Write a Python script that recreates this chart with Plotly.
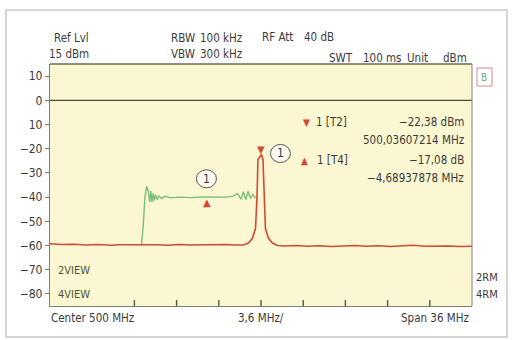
import plotly.graph_objects as go

# ---------------- data ----------------
center_mhz = 500.0
span_mhz = 36.0
x_start = center_mhz - span_mhz / 2
x_stop = center_mhz + span_mhz / 2

# red trace (clear/write) : frequency (MHz) and level (dBm)
red_f = [482.0, 483.0, 484.0, 485.1, 486.0, 487.2, 488.0, 489.0, 490.0, 491.0, 492.1,
         493.0, 494.0, 495.0, 496.0, 497.0, 497.8, 498.5, 498.93, 499.27, 499.53,
         499.66, 499.74, 500.036, 500.17, 500.26, 500.38, 500.64, 500.98, 501.41,
         502.0, 503.0, 504.0, 505.0, 506.0, 507.0, 508.0, 509.0, 510.0, 511.0,
         512.0, 513.0, 514.0, 515.0, 516.0, 517.0, 518.0]
red_db = [-59.3, -59.6, -59.5, -59.8, -59.6, -59.9, -59.7, -59.6, -59.8, -59.7, -59.9,
          -59.6, -59.8, -59.7, -59.9, -59.6, -59.8, -59.8, -59.0, -57.0, -53.0,
          -40.0, -24.5, -22.38, -24.5, -40.0, -53.0, -57.0, -59.0, -60.0,
          -60.2, -60.0, -60.3, -60.1, -60.4, -60.2, -60.0, -60.3, -60.1, -60.4,
          -60.2, -59.9, -60.3, -60.1, -60.2, -60.4, -60.3]

# green trace (max hold)
green_f = [489.8, 489.95, 490.1, 490.25, 490.38, 490.5, 490.6, 490.7, 490.8, 490.9,
           491.0, 491.15, 491.3, 491.5, 491.8, 492.3, 493.0, 494.0, 495.0, 496.0,
           497.0, 497.6, 498.0, 498.3, 498.5, 498.7, 498.9, 499.1, 499.3, 499.5, 499.62]
green_db = [-60.0, -52.0, -40.0, -35.5, -37.5, -42.0, -37.5, -42.0, -38.5, -41.5,
            -39.0, -41.0, -39.5, -40.6, -39.7, -40.3, -40.0, -40.2, -39.9, -40.1,
            -40.0, -39.6, -38.6, -40.8, -37.8, -41.0, -37.6, -40.5, -38.8, -40.2, -40.0]

# markers
t2_freq = 500.03607214
t2_level = -22.38
t4_delta_freq = -4.68937878
t4_delta_level = -17.08
t4_freq = t2_freq + t4_delta_freq
t4_level = t2_level + t4_delta_level

y_ticks = [10, 0, -10, -20, -30, -40, -50, -60, -70, -80]
y_labels = ["10", "0", "10", "\u221220", "\u221230", "\u221240", "\u221250", "\u221260", "\u221270", "\u221280"]
x_div = span_mhz / 10
x_ticks = [x_start + i * x_div for i in range(2, 10)]

# ---------------- layout helpers ----------------
W_FIG, H_FIG = 512, 340
L, R, T, B = 50, 472, 64, 306
PW, PH = R - L, B - T


def px(xp):
    return (xp - L) / PW


def py(yp):
    return (B - yp) / PH


FONT = "Liberation Sans Narrow, DejaVu Sans Condensed, Arial Narrow, sans-serif"
TXT = "#3a3a3a"
OLIVE = "#4d5634"
RED = "#cf4b36"
GREEN = "#7cbf78"
BG = "#fbf7d2"
AX = "#7d8070"

fig = go.Figure()
fig.add_trace(go.Scatter(x=green_f, y=green_db, mode="lines",
                         line=dict(color=GREEN, width=1.4), hoverinfo="skip"))
fig.add_trace(go.Scatter(x=red_f, y=red_db, mode="lines",
                         line=dict(color=RED, width=1.6), hoverinfo="skip"))

ann = []


def txt(text, xp, yp, xanchor="left", size=11.5, color=TXT):
    ann.append(dict(text=text, x=px(xp), y=py(yp), xref="paper", yref="paper",
                    xanchor=xanchor, yanchor="middle", showarrow=False,
                    font=dict(family=FONT, size=size, color=color)))


# header
txt("Ref Lvl", 52, 38)
txt("15 dBm", 47, 54)
txt("RBW", 169, 38)
txt("100 kHz", 198, 38)
txt("RF Att", 260, 37)
txt("40 dB", 302, 37)
txt("VBW", 169, 54)
txt("300 kHz", 198, 54)
txt("SWT", 327, 58)
txt("100 ms", 361, 58)
txt("Unit", 405, 58)
txt("dBm", 469, 58, xanchor="right")

# marker info
txt("\u25bc", 301, 122, size=10, color=RED)
txt("1 [T2]", 314, 122)
txt("\u221222,38 dBm", 466, 122, xanchor="right")
txt("500,03607214 MHz", 466, 140, xanchor="right")
txt("\u25b2", 299, 160, size=10, color=RED)
txt("1 [T4]", 315, 160)
txt("\u221217,08 dB", 466, 160, xanchor="right")
txt("\u22124,68937878 MHz", 466, 178, xanchor="right")

# side labels
txt("2VIEW", 56, 270, size=11, color=OLIVE)
txt("4VIEW", 56, 294, size=11, color=OLIVE)
txt("2RM", 474, 277, size=11)
txt("4RM", 474, 294, size=11)
txt("B", 484.5, 77, xanchor="center", size=10, color="#6aa86a")

# bottom labels
txt("Center 500 MHz", 49, 318)
txt("3,6 MHz/", 261, 318, xanchor="center")
txt("Span 36 MHz", 471, 318, xanchor="right")

# marker triangles at trace points
ann.append(dict(text="\u25bc", x=t2_freq, y=t2_level, xref="x", yref="y",
                xanchor="center", yanchor="bottom", showarrow=False, yshift=-3,
                font=dict(family="DejaVu Sans", size=10, color=RED)))
ann.append(dict(text="\u25b2", x=t4_freq, y=t4_level, xref="x", yref="y",
                xanchor="center", yanchor="top", showarrow=False, yshift=1, xshift=1,
                font=dict(family="DejaVu Sans", size=10, color=RED)))

shapes = []
# circled "1" markers
for fx, fy, dx, dy in [(t4_freq, t4_level, 0, 17), (t2_freq, t2_level, 19, 1)]:
    shapes.append(dict(type="circle", xref="x", yref="y", xsizemode="pixel", ysizemode="pixel",
                       xanchor=fx, yanchor=fy, x0=dx - 10, x1=dx + 10, y0=dy - 9, y1=dy + 9,
                       line=dict(color="#555555", width=1), fillcolor="#fdfdf4", layer="above"))
    ann.append(dict(text="1", x=fx, y=fy, xref="x", yref="y", xshift=dx, yshift=dy,
                    showarrow=False, xanchor="center", yanchor="middle",
                    font=dict(family=FONT, size=12, color=TXT)))

# inside ticks on the frequency axis
for xt in x_ticks:
    shapes.append(dict(type="line", xref="x", yref="paper", x0=xt, x1=xt, y0=0, y1=6 / PH,
                       line=dict(color="#55584a", width=1.4), layer="above"))

# 0 dB reference line
shapes.append(dict(type="line", xref="paper", yref="y", x0=0, x1=1, y0=0, y1=0,
                   line=dict(color="#4a4a3a", width=1.3), layer="above"))
# top and right borders of the plot
shapes.append(dict(type="line", xref="paper", yref="paper", x0=0, x1=1, y0=1, y1=1,
                   line=dict(color="#6a6a5a", width=1.3)))
shapes.append(dict(type="line", xref="paper", yref="paper", x0=1, x1=1, y0=0, y1=1,
                   line=dict(color="#8a8a80", width=1.1)))
# "B" box
shapes.append(dict(type="rect", xref="paper", yref="paper", x0=px(477), x1=px(492),
                   y0=py(86), y1=py(68), line=dict(color="#d9868a", width=1)))
# outer frame
shapes.append(dict(type="rect", xref="paper", yref="paper", x0=px(6), x1=px(507),
                   y0=py(337), y1=py(10), line=dict(color="#c9c9c9", width=1.5)))

fig.update_layout(
    width=W_FIG, height=H_FIG,
    margin=dict(l=L, r=W_FIG - R, t=T, b=H_FIG - B),
    paper_bgcolor="white", plot_bgcolor=BG,
    showlegend=False,
    annotations=ann, shapes=shapes,
    xaxis=dict(range=[x_start, x_stop], showgrid=False, zeroline=False,
               showticklabels=False, ticks="",
               showline=True, linecolor=AX, linewidth=1.3),
    yaxis=dict(range=[-85, 15], showgrid=False, zeroline=False,
               tickvals=y_ticks, ticktext=y_labels,
               ticks="outside", ticklen=4, tickcolor=AX, tickwidth=1,
               showline=True, linecolor=AX, linewidth=1.3,
               tickfont=dict(family=FONT, size=12, color=TXT)),
)

fig.write_html("out.html")
